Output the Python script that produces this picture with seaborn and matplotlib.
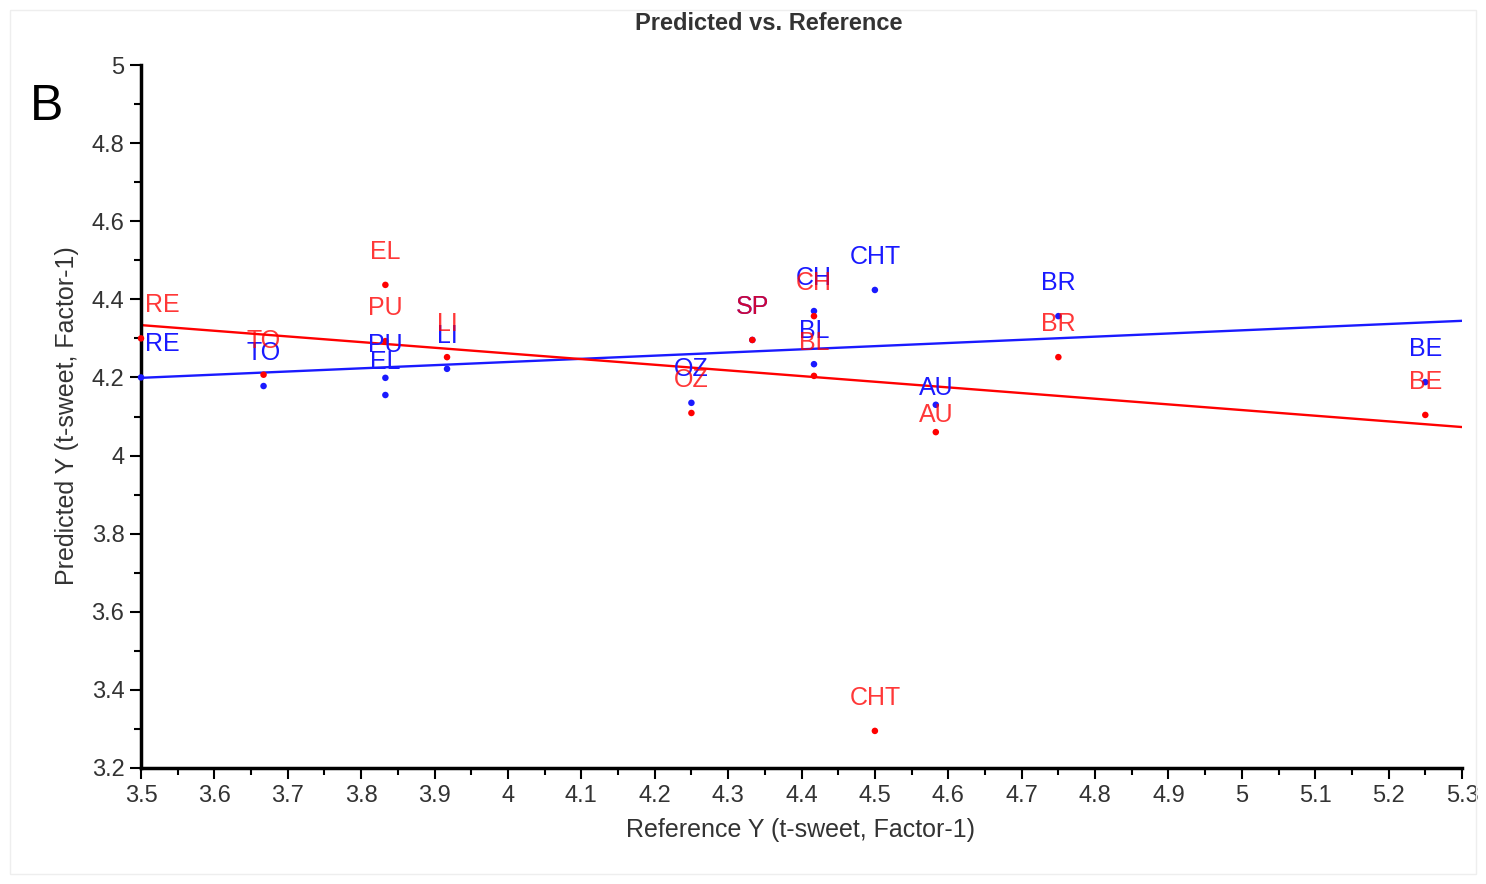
import numpy as np
import pandas as pd
import seaborn as sns
import matplotlib.pyplot as plt
from matplotlib.ticker import MultipleLocator, FuncFormatter
from matplotlib.patches import Rectangle

# ---- data ----
samples = ["RE", "TO", "PU", "EL", "LI", "OZ", "SP", "CH", "BL", "CHT", "AU", "BR", "BE"]
reference = [3.5, 3.667, 3.833, 3.833, 3.917, 4.25, 4.333, 4.417, 4.417, 4.5, 4.583, 4.75, 5.25]
calibration = [4.200, 4.178, 4.199, 4.155, 4.222, 4.135, 4.296, 4.370, 4.234, 4.424, 4.130, 4.357, 4.188]
validation = [4.300, 4.207, 4.293, 4.437, 4.252, 4.109, 4.296, 4.357, 4.204, 3.295, 4.060, 4.252, 4.104]

line_x = [3.5, 5.3]
calib_line_y = [4.199, 4.345]
valid_line_y = [4.334, 4.073]

title = "Predicted vs. Reference"
xlabel = "Reference Y (t-sweet, Factor-1)"
ylabel = "Predicted Y (t-sweet, Factor-1)"
panel = "B"

BLUE = "#1a1aff"
RED = "#ff0000"

# label placement (offset above point, in points)
label_offset = {"AU": 12}
default_offset = 24

sns.set_theme(style="white")
plt.rcParams['font.family'] = ['Liberation Sans', 'DejaVu Sans']

df = pd.DataFrame({
    "sample": samples * 2,
    "reference": reference * 2,
    "predicted": calibration + validation,
    "set": ["Calibration"] * len(samples) + ["Validation"] * len(samples),
})

fig = plt.figure(figsize=(14.86, 8.84), dpi=100)
fig.patch.set_facecolor("white")
fig.patches.append(Rectangle((10 / 1486, 10 / 884), 1466 / 1486, 864 / 884,
                             transform=fig.transFigure, fill=False,
                             edgecolor="#eeeeee", linewidth=1))
ax = fig.add_axes([141 / 1486, 1 - 768 / 884, 1321 / 1486, 703 / 884])

sns.lineplot(x=line_x, y=calib_line_y, color=BLUE, linewidth=1.7, ax=ax)
sns.lineplot(x=line_x, y=valid_line_y, color=RED, linewidth=1.7, ax=ax)
sns.scatterplot(data=df, x="reference", y="predicted", hue="set",
                palette={"Calibration": BLUE, "Validation": RED},
                s=22, linewidth=0, legend=False, ax=ax, clip_on=False, zorder=3)

for subset, col, alpha in (("Calibration", BLUE, 1.0), ("Validation", RED, 0.78)):
    sub = df[df["set"] == subset]
    for _, r in sub.iterrows():
        if r["reference"] <= 3.5:
            ha, dx = "left", 3
        else:
            ha, dx = "center", 0
        dy = label_offset.get(r["sample"], default_offset)
        ax.annotate(r["sample"], (r["reference"], r["predicted"]),
                    xytext=(dx, dy), textcoords="offset points",
                    ha=ha, va="center", fontsize=18, color=col, alpha=alpha,
                    annotation_clip=False)

ax.set_xlim(3.5, 5.3)
ax.set_ylim(3.2, 5.0)
ax.xaxis.set_major_locator(MultipleLocator(0.1))
ax.xaxis.set_minor_locator(MultipleLocator(0.05))
ax.yaxis.set_major_locator(MultipleLocator(0.2))
ax.yaxis.set_minor_locator(MultipleLocator(0.1))
fmt = FuncFormatter(lambda v, p: f"{round(v, 2):g}")
ax.xaxis.set_major_formatter(fmt)
ax.yaxis.set_major_formatter(fmt)

for s in ("top", "right"):
    ax.spines[s].set_visible(False)
for s in ("left", "bottom"):
    ax.spines[s].set_color("black")
    ax.spines[s].set_linewidth(2.5)

ax.tick_params(which="major", direction="out", length=8, width=1.5,
               color="black", labelsize=17, labelcolor="#333333", pad=4,
               bottom=True, left=True)
ax.tick_params(which="minor", direction="out", length=5, width=1.5,
               color="black", bottom=True, left=True)
ax.set_xlabel("")
ax.set_ylabel("")

fig.text(769 / 1486, 1 - 23 / 884, title, ha="center", va="center",
         fontsize=17, fontweight="bold", color="#333333")
fig.text(801 / 1486, 1 - 830 / 884, xlabel, ha="center", va="center",
         fontsize=18, color="#333333")
fig.text(67 / 1486, 1 - 416 / 884, ylabel, ha="center", va="center",
         rotation=90, fontsize=18, color="#333333")
fig.text(47 / 1486, 1 - 107 / 884, panel, ha="center", va="center",
         fontsize=36, color="black")

fig.savefig("out.png", dpi=100, facecolor="white")
